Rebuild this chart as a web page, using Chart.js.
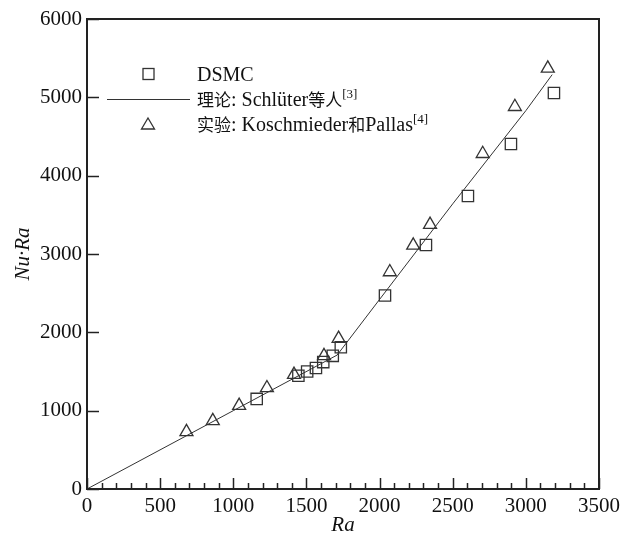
<!DOCTYPE html>
<html>
<head>
<meta charset="utf-8">
<script src="https://cdn.jsdelivr.net/npm/chart.js@4"></script>
<style>
  html, body { margin: 0; padding: 0; background: #fff; }
  #wrap { width: 631px; height: 538px; }
</style>
</head>
<body>
<div id="wrap"><canvas id="chart" width="631" height="538"></canvas></div>
<script>
// DSMC results (squares)
const dsmcRa = [1160, 1445, 1505, 1565, 1615, 1680, 1735, 2037, 2317, 2604, 2898, 3192];
const dsmcNuRa = [1150, 1445, 1500, 1545, 1620, 1700, 1810, 2470, 3115, 3740, 4404, 5055];

// theory line (Schlüter et al.)
const theoryRa = [0, 1000, 1710, 2000, 2500, 3000, 3180];
const theoryNuRa = [0, 1000, 1710, 2420, 3640, 4830, 5290];

// experiment (triangles, Koschmieder & Pallas)
const expRa = [680, 860, 1040, 1230, 1415, 1620, 1720, 2070, 2230, 2345, 2705, 2925, 3150];
const expNuRa = [730, 870, 1065, 1290, 1460, 1700, 1920, 2770, 3110, 3375, 4280, 4880, 5370];

const xTicks = [0, 500, 1000, 1500, 2000, 2500, 3000, 3500];
const yTicks = [0, 1000, 2000, 3000, 4000, 5000, 6000];

const serif = "'Liberation Serif', 'Times New Roman', 'Noto Sans CJK SC', serif";
const ink = '#222';

const toPts = (xs, ys) => xs.map((x, i) => ({ x: x, y: ys[i] }));

// frame, inward tick marks and the legend
const framePlugin = {
  id: 'frame',
  afterDraw(chart) {
    const { ctx, chartArea: a, scales } = chart;
    ctx.save();
    ctx.strokeStyle = ink;
    ctx.lineWidth = 1.5;
    // x ticks: major every 500, minor every 100
    for (let v = 0; v <= 3500; v += 100) {
      const px = Math.round(scales.x.getPixelForValue(v)) + 0.5;
      const len = v % 500 === 0 ? 11 : 6;
      ctx.beginPath();
      ctx.moveTo(px, a.bottom);
      ctx.lineTo(px, a.bottom - len);
      ctx.stroke();
    }
    yTicks.forEach(v => {
      const py = Math.round(scales.y.getPixelForValue(v)) + 0.5;
      ctx.beginPath();
      ctx.moveTo(a.left, py);
      ctx.lineTo(a.left + 12, py);
      ctx.stroke();
    });
    ctx.lineWidth = 2;
    ctx.strokeRect(a.left, a.top, a.right - a.left, a.bottom - a.top);

    // legend
    ctx.lineWidth = 1.3;
    ctx.strokeStyle = '#333';
    ctx.strokeRect(143, 68.5, 11, 11);
    ctx.beginPath();
    ctx.moveTo(107, 99.5);
    ctx.lineTo(190, 99.5);
    ctx.lineWidth = 1;
    ctx.stroke();
    ctx.lineWidth = 1.3;
    ctx.beginPath();
    ctx.moveTo(148, 118);
    ctx.lineTo(154.5, 129);
    ctx.lineTo(141.5, 129);
    ctx.closePath();
    ctx.stroke();

    ctx.fillStyle = '#111';
    ctx.textBaseline = 'alphabetic';
    const line = (parts, x, y) => {
      parts.forEach(p => {
        ctx.font = p.sup ? '13px ' + serif : p.cjk ? '17px ' + serif : '20px ' + serif;
        ctx.fillText(p.t, x, p.sup ? y - 8 : y);
        x += ctx.measureText(p.t).width;
      });
    };
    line([{ t: 'DSMC' }], 197, 81);
    line([{ t: '理论', cjk: true }, { t: ': Schlüter' }, { t: '等人', cjk: true }, { t: '[3]', sup: true }], 197, 106);
    line([{ t: '实验', cjk: true }, { t: ': Koschmieder' }, { t: '和', cjk: true }, { t: 'Pallas' }, { t: '[4]', sup: true }], 197, 131);
    ctx.restore();
  }
};

new Chart(document.getElementById('chart'), {
  type: 'scatter',
  data: {
    datasets: [
      {
        label: 'DSMC',
        data: toPts(dsmcRa, dsmcNuRa),
        pointStyle: 'rect',
        pointRadius: 8,
        borderColor: '#333',
        backgroundColor: 'rgba(0,0,0,0)',
        borderWidth: 1.3
      },
      {
        label: '理论: Schlüter等人[3]',
        type: 'line',
        data: toPts(theoryRa, theoryNuRa),
        borderColor: '#333',
        borderWidth: 1,
        pointRadius: 0,
        tension: 0,
        fill: false
      },
      {
        label: '实验: Koschmieder和Pallas[4]',
        data: toPts(expRa, expNuRa),
        pointStyle: 'triangle',
        pointRadius: 7.5,
        borderColor: '#333',
        backgroundColor: 'rgba(0,0,0,0)',
        borderWidth: 1.3
      }
    ]
  },
  options: {
    responsive: false,
    animation: false,
    layout: { padding: { top: 19, right: 32, left: 0, bottom: 0 } },
    plugins: {
      legend: { display: false },
      tooltip: { enabled: false }
    },
    scales: {
      x: {
        type: 'linear',
        min: 0,
        max: 3500,
        afterBuildTicks: s => { s.ticks = xTicks.map(v => ({ value: v })); },
        afterFit: s => { s.height = 49; },
        grid: { display: false, drawTicks: false },
        border: { display: false },
        ticks: { color: '#111', font: { family: serif, size: 21 }, padding: 5, maxRotation: 0, callback: v => String(v) },
        title: {
          display: true,
          text: 'Ra',
          color: '#111',
          font: { family: serif, size: 21, style: 'italic' },
          padding: { top: -6, bottom: 0 }
        }
      },
      y: {
        type: 'linear',
        min: 0,
        max: 6000,
        afterBuildTicks: s => { s.ticks = yTicks.map(v => ({ value: v })); },
        afterFit: s => { s.width = 87; },
        grid: { display: false, drawTicks: false },
        border: { display: false },
        ticks: { color: '#111', font: { family: serif, size: 21 }, padding: 5, callback: v => String(v) },
        title: {
          display: true,
          text: 'Nu·Ra',
          color: '#111',
          font: { family: serif, size: 21, style: 'italic' },
          padding: { top: 11, bottom: 0 }
        }
      }
    }
  },
  plugins: [framePlugin]
});
</script>
</body>
</html>
